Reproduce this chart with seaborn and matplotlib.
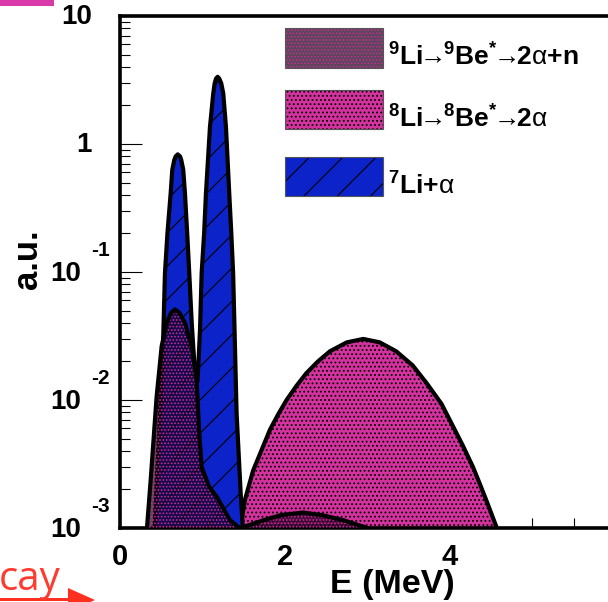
import numpy as np
import pandas as pd
import matplotlib
matplotlib.use("Agg")
import matplotlib.pyplot as plt
import seaborn as sns
from matplotlib.patches import Rectangle, Polygon
import matplotlib.transforms as mtransforms
from matplotlib.ticker import FixedLocator, LogLocator, NullFormatter

# ---------------- data ----------------
li7_E = [0.42, 0.47, 0.52, 0.545, 0.575, 0.614, 0.634, 0.658, 0.675, 0.70, 0.728, 0.743,
         0.767, 0.788, 0.815, 0.84, 0.87, 0.90, 0.94, 0.97, 0.99, 1.02, 1.042, 1.091,
         1.131, 1.148, 1.165, 1.184, 1.203, 1.228, 1.252, 1.285, 1.325, 1.35, 1.372,
         1.395, 1.414, 1.445, 1.467, 1.49]
li7_val = [0.001, 0.005, 0.025, 0.098, 0.20, 0.41, 0.63, 0.75, 0.80, 0.83, 0.80, 0.75,
           0.63, 0.41, 0.20, 0.098, 0.040, 0.020, 0.014, 0.035, 0.098, 0.20, 0.41, 1.36,
           2.49, 2.98, 3.25, 3.35, 3.25, 2.98, 2.49, 1.36, 0.41, 0.20, 0.098,
           0.025, 0.0079, 0.0032, 0.0017, 0.001]

li8_E = [1.46, 1.515, 1.615, 1.82, 1.92, 2.02, 2.14, 2.26, 2.40, 2.545, 2.75, 2.95,
         3.15, 3.35, 3.55, 3.72, 3.90, 4.04, 4.16, 4.28, 4.36, 4.44, 4.57]
li8_val = [0.001, 0.00166, 0.00282, 0.00589, 0.00776, 0.0100, 0.0129, 0.0162, 0.0200,
           0.0240, 0.0282, 0.0300, 0.0282, 0.0240, 0.0186, 0.0135, 0.0093, 0.0062,
           0.00437, 0.0030, 0.00224, 0.00166, 0.001]

li9_E = [0.327, 0.372, 0.444, 0.505, 0.566, 0.62, 0.667, 0.72, 0.788, 0.869, 0.929,
         0.958, 0.99, 1.08, 1.172, 1.333, 1.45, 1.6, 1.74, 1.95, 2.22, 2.45, 2.71,
         2.9, 3.0]
li9_val = [0.001, 0.00237, 0.0106, 0.0263, 0.040, 0.048, 0.051, 0.048, 0.040, 0.0263,
           0.0145, 0.0059, 0.0030, 0.0021, 0.00176, 0.00115, 0.001, 0.00107, 0.00115,
           0.00126, 0.00132, 0.00126, 0.00115, 0.00105, 0.001]

x_major = [0, 2, 4, 6]
x_labels = ["0", "2", "4", "6"]
y_major = [1e-3, 1e-2, 1e-1, 1, 10]
y_base = ["10", "10", "10", "1", "10"]
y_exp = ["-3", "-2", "-1", "", ""]

legend_labels = [
    r"$^{\mathbf{9}}\mathbf{Li}\!\!\rightarrow\!\!{}^{\mathbf{9}}\mathbf{Be}^{\mathbf{*}}\!\!\rightarrow\!\!\mathbf{2}\alpha{\mathbf{+}}\mathbf{n}$",
    r"$^{\mathbf{8}}\mathbf{Li}\!\!\rightarrow\!\!{}^{\mathbf{8}}\mathbf{Be}^{\mathbf{*}}\!\!\rightarrow\!\!\mathbf{2}\alpha$",
    r"$^{\mathbf{7}}\mathbf{Li}{\mathbf{+}}\alpha$",
]

# ---------------- style ----------------
sns.set_theme(style="white")
plt.rcParams["font.family"] = ["Liberation Sans", "DejaVu Sans"]
plt.rcParams["mathtext.fontset"] = "custom"
plt.rcParams["mathtext.rm"] = "Liberation Sans"
plt.rcParams["mathtext.bf"] = "Liberation Sans:bold"
plt.rcParams["mathtext.it"] = "Liberation Sans"
plt.rcParams["hatch.linewidth"] = 0.8

BLUE = "#0b23c9"
PINK = "#d4329f"
DARK = (0.10, 0.0, 0.10, 0.72)
MAG = "#c92a98"

W, H = 608, 602
fig = plt.figure(figsize=(W / 100, H / 100), dpi=100)
ax_left, ax_right, ax_top, ax_bot = 120, 656, 16, 528
ax = fig.add_axes([ax_left / W, 1 - ax_bot / H, (ax_right - ax_left) / W, (ax_bot - ax_top) / H])
ax.set_yscale("log")
ax.set_xlim(0, 6.5)
ax.set_ylim(1e-3, 10)
ax.set_facecolor("white")

df7 = pd.DataFrame({"E": li7_E, "v": li7_val})
df8 = pd.DataFrame({"E": li8_E, "v": li8_val})
df9 = pd.DataFrame({"E": li9_E, "v": li9_val})

# 8Li -> 8Be* -> 2alpha (pink with black dots)
ax.fill(df8["E"], df8["v"], facecolor=PINK, edgecolor="none", zorder=1)
ax.fill(df8["E"], df8["v"], facecolor="none", edgecolor="black", hatch="....", linewidth=0, zorder=1.1)
sns.lineplot(data=df8, x="E", y="v", color="black", linewidth=3.0, estimator=None, sort=False, ax=ax, zorder=1.2)

# 7Li + alpha (blue with diagonal lines)
ax.fill(df7["E"], df7["v"], facecolor=BLUE, edgecolor="none", zorder=2)
ax.fill(df7["E"], df7["v"], facecolor="none", edgecolor="black", hatch="/", linewidth=0, zorder=2.1)
sns.lineplot(data=df7, x="E", y="v", color="black", linewidth=3.0, estimator=None, sort=False, ax=ax, zorder=2.2)

# 9Li -> 9Be* -> 2alpha+n (dark with dense magenta dots)
ax.fill(df9["E"], df9["v"], facecolor=DARK, edgecolor="none", zorder=3)
ax.fill(df9["E"], df9["v"], facecolor="none", edgecolor=MAG, hatch=".....", linewidth=0, zorder=3.1)
sns.lineplot(data=df9, x="E", y="v", color="black", linewidth=3.0, estimator=None, sort=False, ax=ax, zorder=3.2)

# ---------------- axes ----------------
for side in ["left", "bottom", "top"]:
    ax.spines[side].set_visible(True)
    ax.spines[side].set_color("black")
    ax.spines[side].set_linewidth(2.6)
ax.spines["right"].set_visible(False)

ax.xaxis.set_major_locator(FixedLocator(x_major))
ax.xaxis.set_minor_locator(FixedLocator(np.arange(0, 6.6, 0.5)))
ax.set_xticklabels(x_labels)
ax.yaxis.set_major_locator(FixedLocator(y_major))
ax.yaxis.set_minor_locator(LogLocator(base=10, subs=np.arange(2, 10), numticks=20))
ax.yaxis.set_major_formatter(NullFormatter())
ax.yaxis.set_minor_formatter(NullFormatter())
ax.tick_params(axis="x", which="major", direction="in", length=15, width=0.8, color="black",
               bottom=True, top=False, labelsize=21, pad=11, labelcolor="black")
ax.tick_params(axis="x", which="minor", direction="in", length=7.5, width=0.8, color="black",
               bottom=True, top=False)
ax.tick_params(axis="y", which="major", direction="in", length=16, width=0.8, color="black",
               left=True, right=False)
ax.tick_params(axis="y", which="minor", direction="in", length=7.5, width=0.8, color="black",
               left=True, right=False)
for lab in ax.get_xticklabels():
    lab.set_fontweight("bold")
ax.set_xlabel("")
ax.set_ylabel("")

# y tick labels ROOT-style (base + raised exponent)
ytrans = mtransforms.blended_transform_factory(fig.transFigure, ax.transData)
for v, b, e in zip(y_major, y_base, y_exp):
    if e:
        t = ytrans + mtransforms.ScaledTranslation(0, -2 / 100, fig.dpi_scale_trans)
        ax.text(81 / W, v, b, transform=t, ha="right", va="center", fontsize=20,
                fontweight="bold", color="black", clip_on=False)
        t2 = ytrans + mtransforms.ScaledTranslation(0, 16 / 100, fig.dpi_scale_trans)
        ax.text(91 / W, v, e, transform=t2, ha="left", va="baseline", fontsize=15,
                fontweight="bold", color="black", clip_on=False)
    else:
        t = ytrans + mtransforms.ScaledTranslation(0, -1 / 100, fig.dpi_scale_trans)
        ax.text(92 / W, v, b, transform=t, ha="right", va="center", fontsize=20,
                fontweight="bold", color="black", clip_on=False)

# axis titles
fig.text(392 / W, 1 - 584 / H, "E (MeV)", ha="center", va="center", fontsize=24.5,
         fontweight="bold", color="black")
fig.text(28 / W, 1 - 259 / H, "a.u.", ha="center", va="center", rotation=90, fontsize=25,
         fontweight="bold", color="black")

# ---------------- legend ----------------
boxes = [(285, 28, 383, 68), (285, 90, 383, 129), (285, 157, 383, 196)]
baselines = [66, 128, 195]
styles = [
    dict(face=DARK, hatch=".....", hcol=MAG),
    dict(face=PINK, hatch="....", hcol="black"),
    dict(face=BLUE, hatch="/", hcol="black"),
]
for (x0, y0, x1, y1), st, lab, bl in zip(boxes, styles, legend_labels, baselines):
    xy = (x0 / W, 1 - y1 / H)
    w, h = (x1 - x0) / W, (y1 - y0) / H
    fig.add_artist(Rectangle(xy, w, h, transform=fig.transFigure, facecolor="white",
                             edgecolor="none", zorder=5))
    fig.add_artist(Rectangle(xy, w, h, transform=fig.transFigure, facecolor=st["face"],
                             edgecolor="none", zorder=5.1))
    fig.add_artist(Rectangle(xy, w, h, transform=fig.transFigure, facecolor="none",
                             edgecolor=st["hcol"], hatch=st["hatch"], linewidth=0, zorder=5.2))
    fig.add_artist(Rectangle(xy, w, h, transform=fig.transFigure, facecolor="none",
                             edgecolor="#555555", linewidth=0.8, zorder=5.3))
    fig.text(388 / W, 1 - bl / H, lab, ha="left", va="baseline", fontsize=19, color="black",
             zorder=6)

# ---------------- slide fragments around the crop ----------------
fig.add_artist(Rectangle((0, 1 - 6 / H), 54 / W, 6 / H, transform=fig.transFigure,
                         facecolor="#d93aaa", edgecolor="none"))
fig.text(-1 / W, 1 - 590 / H, "cay", ha="left", va="baseline", fontsize=29,
         color="#ff3b2f", family=["Open Sans", "DejaVu Sans"])
fig.add_artist(Rectangle((0, 1 - 601 / H), 70 / W, 3 / H, transform=fig.transFigure,
                         facecolor="#ff3020", edgecolor="none"))
fig.add_artist(Polygon([(68 / W, 1 - 588 / H), (95 / W, 1 - 600 / H), (68 / W, 1 - 612 / H)],
                       closed=True, transform=fig.transFigure, facecolor="#ff3020",
                       edgecolor="none"))

fig.savefig("out.png", dpi=100)
